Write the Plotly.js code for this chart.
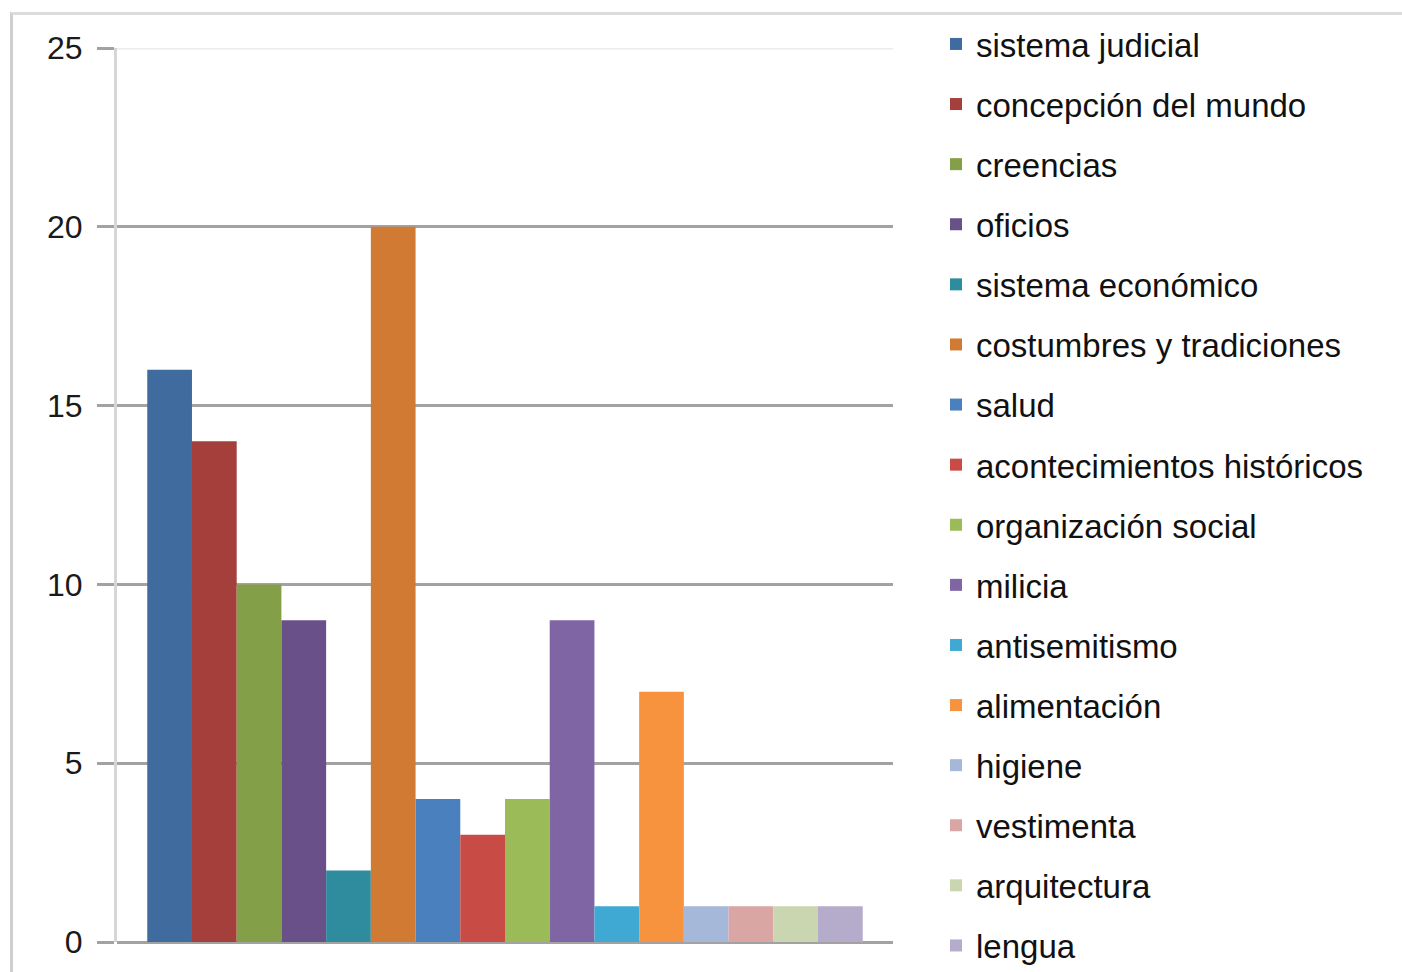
<!DOCTYPE html>
<html>
<head>
<meta charset="utf-8">
<script src="https://cdn.plot.ly/plotly-3.0.1.min.js"></script>
<style>
  html, body { margin: 0; padding: 0; background: #ffffff; overflow: hidden; }
  #frame { position: absolute; left: 10px; top: 12px; width: 1500px; height: 1100px;
           border-left: 3px solid #cfcfcf; border-top: 3px solid #dcdcdc; pointer-events: none; z-index: 5; }
  #chart { position: absolute; left: 0; top: 0; width: 1402px; height: 972px; }
</style>
</head>
<body>
<div id="chart"></div>
<div id="frame"></div>
<script>
// Categories (legend entries) in order
const categories = [
  "sistema judicial",
  "concepción del mundo",
  "creencias",
  "oficios",
  "sistema económico",
  "costumbres y tradiciones",
  "salud",
  "acontecimientos históricos",
  "organización social",
  "milicia",
  "antisemitismo",
  "alimentación",
  "higiene",
  "vestimenta",
  "arquitectura",
  "lengua"
];

// Values
const values = [16, 14, 10, 9, 2, 20, 4, 3, 4, 9, 1, 7, 1, 1, 1, 1];

// Bar colours
const colors = [
  "#3f6b9f", "#a43f3c", "#83a048", "#6a5089",
  "#2f8c9f", "#d17a34", "#4b80bf", "#c84b46",
  "#9abb58", "#8065a4", "#3fa9d4", "#f7933f",
  "#a6b8da", "#d9a6a4", "#c9d6b0", "#b5abca"
];

// Axis tick values
const yTicks = [0, 5, 10, 15, 20, 25];
const yMax = 25;

const traces = categories.map((name, i) => ({
  type: "bar",
  name: name,
  x: ["serie"],
  y: [values[i]],
  legendgroup: "g" + i,
  marker: { color: colors[i], line: { width: 0 } },
  hoverinfo: "skip"
}));

const layout = {
  width: 1402,
  height: 972,
  paper_bgcolor: "#ffffff",
  plot_bgcolor: "#ffffff",
  margin: { l: 117, r: 509, t: 48, b: 30 },
  barmode: "group",
  bargap: 0.078,
  bargroupgap: 0,
  font: { family: "Liberation Sans, Arial, sans-serif", color: "#111111" },
  xaxis: {
    showticklabels: false,
    showgrid: false,
    zeroline: false,
    showline: false,
    ticks: ""
  },
  yaxis: {
    range: [0, yMax],
    tickvals: yTicks,
    ticktext: yTicks.map(String),
    showgrid: true,
    gridcolor: "#a2a2a2",
    gridwidth: 3,
    zeroline: true,
    zerolinecolor: "#a2a2a2",
    zerolinewidth: 3,
    showline: true,
    linecolor: "#d6d6d6",
    linewidth: 3,
    ticks: "outside",
    ticklen: 17,
    tickwidth: 3,
    tickcolor: "#a2a2a2",
    ticklabelstandoff: 8,
    tickfont: { size: 32, color: "#1a1a1a", family: "Liberation Sans, Arial, sans-serif" }
  },
  shapes: [{
    type: "line", xref: "paper", yref: "y",
    x0: 0, x1: 1, y0: yMax, y1: yMax,
    line: { color: "#ececec", width: 3 },
    layer: "above"
  }],
  showlegend: true,
  legend: {
    xref: "container", yref: "container",
    x: 936 / 1402, xanchor: "left",
    y: 1 - 16 / 972, yanchor: "top",
    maxheight: 972,
    traceorder: "grouped",
    tracegroupgap: 14.2,
    bgcolor: "rgba(0,0,0,0)",
    borderwidth: 0,
    valign: "middle",
    font: { size: 33, color: "#111111", family: "Liberation Sans, Arial, sans-serif" }
  }
};

Plotly.newPlot("chart", traces, layout, { staticPlot: true, displayModeBar: false });
</script>
</body>
</html>
